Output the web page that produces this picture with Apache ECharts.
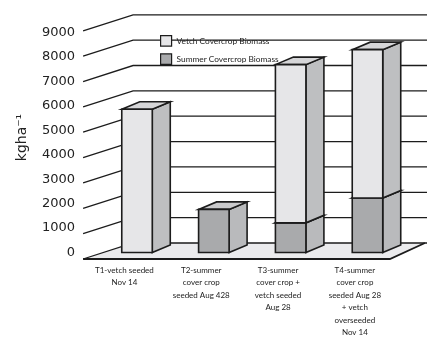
<!DOCTYPE html>
<html>
<head>
<meta charset="utf-8">
<script src="https://cdn.jsdelivr.net/npm/echarts@6/dist/echarts.min.js"></script>
<style>
html,body{margin:0;padding:0;background:#fff;}
#main{width:427px;height:339px;}
</style>
</head>
<body>
<div id="main"></div>
<script>
// data
var categories = ['T1-vetch seeded\nNov 14', 'T2-summer\ncover crop\nseeded Aug 428', 'T3-summer\ncover crop +\nvetch seeded\nAug 28', 'T4-summer\ncover crop\nseeded Aug 28\n+ vetch\noverseeded\nNov 14'];
var summerValues = [0, 1700, 1170, 2150];
var vetchValues = [5650, 0, 6240, 5850];
var yTicks = [0, 1000, 2000, 3000, 4000, 5000, 6000, 7000, 8000, 9000];
var vetchName = 'Vetch Covercrop Biomass';
var summerName = 'Summer Covercrop Biomass';

// pseudo 3d offsets (px), relative to the bar front plane
var FRONT = [-15.5, 6.5];
var BACK = [34.5, -9.5];
var BAR_DEPTH = [18, -7.5];
var BAR_W = 30.5;
var LINE = '#1c1c1c';

var vetchColors = {front: '#e6e6e8', side: '#bebfc1', top: '#d6d6d8'};
var summerColors = {front: '#a9aaac', side: '#b9babc', top: '#cacacc'};

var myChart = echarts.init(document.getElementById('main'));

function barItem(colors){
	return function(params, api){
		var i = api.value(0), lo = api.value(1), hi = api.value(2);
		if (hi <= lo) return;
		var pt = api.coord([i, hi]), pb = api.coord([i, lo]);
		var x0 = pt[0] - BAR_W / 2, x1 = pt[0] + BAR_W / 2;
		var yT = pt[1], yB = pb[1];
		var dx = BAR_DEPTH[0], dy = BAR_DEPTH[1];
		var st = {stroke: LINE, lineWidth: 1.6, lineJoin: 'miter'};
		return {
			type: 'group',
			children: [
				{type: 'polygon', shape: {points: [[x1, yT], [x1 + dx, yT + dy], [x1 + dx, yB + dy], [x1, yB]]},
					style: Object.assign({fill: colors.side}, st)},
				{type: 'polygon', shape: {points: [[x0, yT], [x0 + dx, yT + dy], [x1 + dx, yT + dy], [x1, yT]]},
					style: Object.assign({fill: colors.top}, st)},
				{type: 'rect', shape: {x: x0, y: yT, width: BAR_W, height: yB - yT},
					style: Object.assign({fill: colors.front}, st)}
			]
		};
	};
}

function gridLineItem(params, api){
	var cs = params.coordSys;
	var y = api.coord([0, api.value(1)])[1];
	var left = cs.x, right = cs.x + cs.width;
	return {
		type: 'polyline',
		shape: {points: [[left + FRONT[0], y + FRONT[1]], [left + BACK[0], y + BACK[1]], [right + 22, y + BACK[1]]]},
		style: {stroke: LINE, lineWidth: 1.3, fill: null}
	};
}

function floorItem(params, api){
	var cs = params.coordSys;
	var y = api.coord([0, 0])[1];
	var left = cs.x, right = cs.x + cs.width;
	var fl = [left + FRONT[0], y + FRONT[1]];
	var fr = [right - 16, y + FRONT[1]];
	var br = [right + 19, y + BACK[1]];
	var bl = [left + BACK[0], y + BACK[1]];
	return {
		type: 'group',
		children: [
			{type: 'polygon', shape: {points: [fl, fr, br, bl]}, style: {fill: '#ebebed'}},
			{type: 'polyline', shape: {points: [fl, fr, br]}, style: {stroke: LINE, lineWidth: 1.8, fill: null}}
		]
	};
}

var summerData = categories.map(function(c, i){ return [i, 0, summerValues[i]]; });
var vetchData = categories.map(function(c, i){ return [i, summerValues[i], summerValues[i] + vetchValues[i]]; });
var tickData = yTicks.map(function(v){ return [0, v]; });

var option = {
	animation: false,
	backgroundColor: '#fff',
	legend: {
		data: [vetchName, summerName],
		orient: 'vertical',
		left: 155,
		top: 30,
		itemWidth: 11,
		itemHeight: 10.5,
		itemGap: 6.5,
		icon: 'rect',
		itemStyle: {borderColor: LINE, borderWidth: 1.2},
		textStyle: {fontFamily: 'Lato', fontSize: 8.3, color: '#222'},
		selectedMode: false
	},
	grid: [
		// bar front plane
		{left: 98.6, right: 21.1, top: 24.3, bottom: 86.5},
		// labels plane
		{left: 86, right: 33.7, top: 32.5, bottom: 85}
	],
	xAxis: [
		{gridIndex: 0, type: 'category', data: categories, show: false},
		{
			gridIndex: 1, type: 'category', data: categories,
			axisLine: {show: false}, axisTick: {show: false},
			axisLabel: {interval: 0, margin: 11.5, fontFamily: 'Lato', fontSize: 8, lineHeight: 12.5, color: '#222'}
		}
	],
	yAxis: [
		{gridIndex: 0, type: 'value', min: 0, max: 9000, interval: 1000, show: false},
		{
			gridIndex: 1, type: 'value', min: 0, max: 9000, interval: 1000,
			name: 'kgha⁻¹', nameLocation: 'middle', nameRotate: 90, nameGap: 57,
			nameTextStyle: {fontFamily: 'DejaVu Sans', fontSize: 14, color: '#222', padding: [0, 0, 0, 10]},
			axisLine: {show: false}, axisTick: {show: false}, splitLine: {show: false},
			axisLabel: {margin: 11, fontFamily: 'DejaVu Sans', fontSize: 13, color: '#222',
				formatter: function(v){ return String(v); }}
		}
	],
	series: [
		{type: 'custom', name: 'floor', silent: true, z: 1, xAxisIndex: 0, yAxisIndex: 0,
			renderItem: floorItem, data: [[0, 0]], encode: {x: 0, y: 1}},
		{type: 'custom', name: 'gridlines', silent: true, z: 2, xAxisIndex: 0, yAxisIndex: 0,
			renderItem: gridLineItem, data: tickData, encode: {x: 0, y: 1}},
		{type: 'custom', name: summerName, silent: true, z: 3, xAxisIndex: 0, yAxisIndex: 0,
			itemStyle: {color: summerColors.front},
			renderItem: barItem(summerColors), data: summerData, encode: {x: 0, y: [1, 2]}},
		{type: 'custom', name: vetchName, silent: true, z: 4, xAxisIndex: 0, yAxisIndex: 0,
			itemStyle: {color: vetchColors.front},
			renderItem: barItem(vetchColors), data: vetchData, encode: {x: 0, y: [1, 2]}}
	]
};

myChart.setOption(option);
</script>
</body>
</html>
